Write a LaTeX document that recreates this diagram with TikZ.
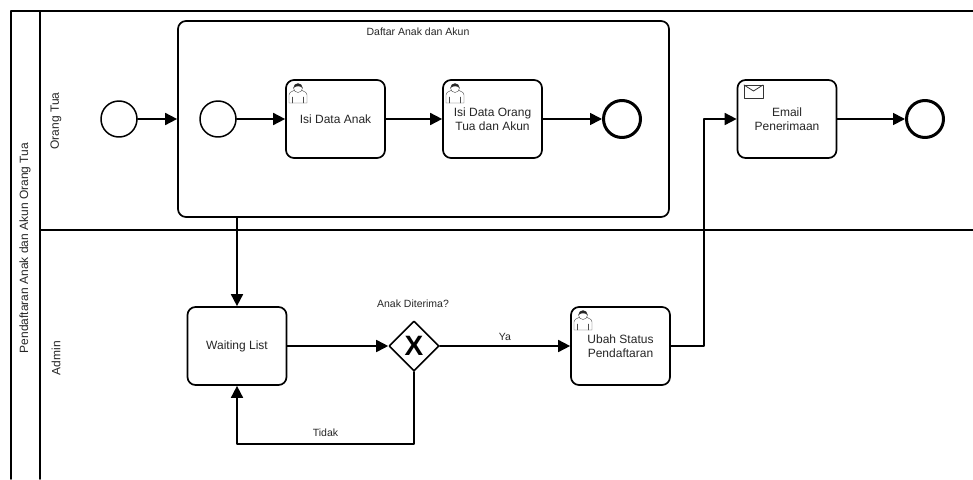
\documentclass[tikz,border=0pt]{standalone}
\usepackage{fontspec}
\setmainfont{Liberation Sans}
\usetikzlibrary{arrows.meta,shapes.geometric}
\tikzset{
    label/.style={text=black!85,font=\fontsize{12}{14.5}\selectfont,align=center,inner sep=0pt},
    smalllabel/.style={label,font=\fontsize{10.5}{14}\selectfont},
    task/.style={label,draw=black,line width=1.7pt,rounded corners=8pt,minimum width=99pt,minimum height=78pt,fill=white},
    startev/.style={circle,draw=black,line width=1.5pt,minimum size=36pt,inner sep=0pt,fill=white},
    endev/.style={circle,draw=black,line width=3pt,minimum size=37pt,inner sep=0pt,fill=white},
    flow/.style={->,line width=1.7pt},
    lane/.style={line width=1.5pt},
    pics/usericon/.style={code={
        \draw [line width=.4pt,draw=black!70,fill=white] (0,20) -- (0,12) .. controls (0,9) and (4,8) .. (6,7) -- (12,7) .. controls (14,8) and (18,9) .. (18,12) -- (18,20) -- cycle;
        \draw [line width=.4pt,draw=black!70] (3.5,20) -- (3.5,14) (14.5,20) -- (14.5,14);
        \draw [line width=.4pt,draw=black!70,fill=white] (9,5) circle (4.5pt);
        \fill [black!85] (4.6,5) .. controls (4.5,-1) and (13.5,-1) .. (13.4,5) .. controls (11,2.6) and (7,2.6) .. (4.6,5) -- cycle;
    }},
    pics/mailicon/.style={code={
        \draw [line width=.8pt,draw=black!80] (0,0) rectangle (19,13);
        \draw [line width=.8pt,draw=black!80] (0,0) -- (9.5,6) -- (19,0);
    }}
}
\begin{document}
\begin{tikzpicture}[line cap=round,line join=round,>={Triangle[length=12pt,width=12pt]},x=1pt,y=-1pt]
\useasboundingbox (0,0) rectangle (973,479);
%pool and lanes
\coordinate (pooltl) at (11,11);
\coordinate (poolbl) at (11,479);
\coordinate (pooltr) at (973,11);
\coordinate (headt) at (40,11);
\coordinate (headb) at (40,479);
\coordinate (lanel) at (40,230);
\coordinate (laner) at (973,230);
\draw [lane] (poolbl) -- (pooltl) -- (pooltr);
\draw [lane] (headt) -- (headb);
\draw [lane] (lanel) -- (laner);
%labels
\node[label,rotate=90] at (25,248) (pool) {Pendaftaran Anak dan Akun Orang Tua};
\node[label,rotate=90] at (56,121) (ortu) {Orang Tua};
\node[label,rotate=90] at (56,358) (admin) {Admin};
%subprocess
\node[task,minimum width=491pt,minimum height=196pt] at (423.5,119) (daftar) {};
\node[smalllabel] at (418,32) (daftarlbl) {Daftar Anak dan Akun};
%events
\node[startev] at (119,119) (start) {};
\node[startev] at (218,119) (substart) {};
\node[endev] at (622,119) (subend) {};
\node[endev] at (925,119) (end) {};
%tasks
\node[task] at (335.5,119) (isianak) {Isi Data Anak};
\node[task] at (492.5,119) (isiortu) {Isi Data Orang\\Tua dan Akun};
\node[task] at (787,119) (email) {Email\\Penerimaan};
\node[task] at (237,346) (waiting) {Waiting List};
\node[task] at (620.5,346) (ubah) {Ubah Status\\Pendaftaran};
%gateway
\node[diamond,draw=black,line width=1.6pt,minimum width=50pt,minimum height=50pt,inner sep=0pt,fill=white,font=\fontsize{28}{28}\selectfont\bfseries] at (414,346) (gate) {X};
\node[smalllabel] at (413,304) (gatelbl) {Anak Diterima?};
%icons
\pic at (289,83) {usericon};
\pic at (446,83) {usericon};
\pic at (574,310) {usericon};
\pic at (744,85) {mailicon};
%lines
\draw [flow] (start) -- (daftar.west |- start);
\draw [flow] (substart) -- (isianak);
\draw [flow] (isianak) -- (isiortu);
\draw [flow] (isiortu) -- (subend);
\draw [flow] (email) -- (end);
\draw [flow] (daftar.south -| waiting) -- (waiting);
\draw [flow] (waiting) -- (gate);
\draw [flow] (gate) -- node[smalllabel,above=5pt,pos=.5] (ya) {Ya} (ubah);
\coordinate (tidakr) at (414,444);
\coordinate (tidakl) at (237,444);
\draw [flow] (gate) -- (tidakr) -- node[smalllabel,above=7pt,pos=.5] (tidak) {Tidak} (tidakl) -- (waiting);
\coordinate (upb) at (704,346);
\coordinate (upt) at (704,119);
\draw [flow] (ubah) -- (upb) -- (upt) -- (email);
\end{tikzpicture}
\end{document}
